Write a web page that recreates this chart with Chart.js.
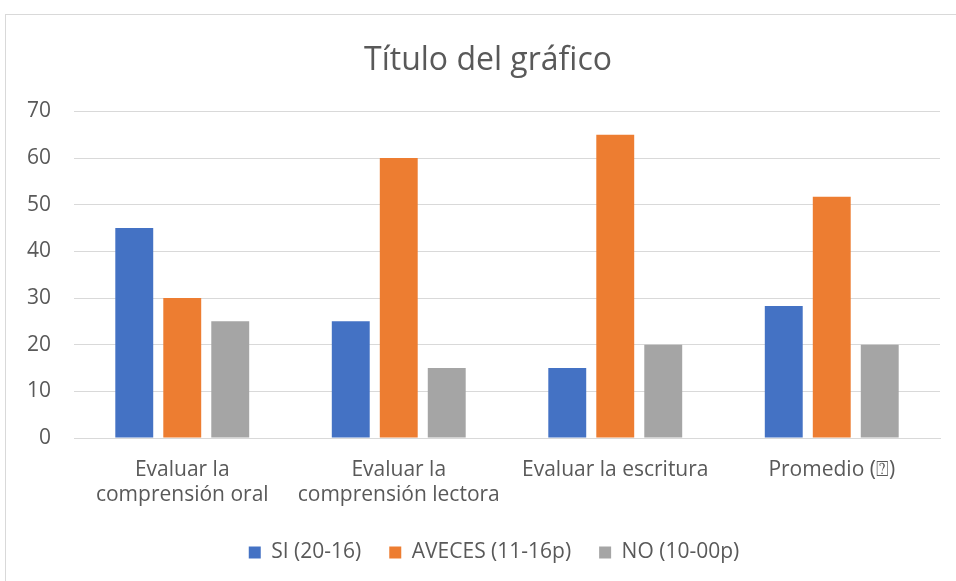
<!DOCTYPE html>
<html>
<head>
<meta charset="utf-8">
<script src="https://cdn.jsdelivr.net/npm/chart.js@4"></script>
<style>
    html, body { margin: 0; padding: 0; background: #fff; overflow: hidden; }
    #wrap { position: relative; width: 956px; height: 581px; }
    #frame { position: absolute; left: 5px; top: 14px; width: 970px; height: 600px; border: 1px solid #d9d9d9; }
    canvas { position: absolute; left: 0; top: 0; }
</style>
</head>
<body>
<div id="wrap">
    <div id="frame"></div>
    <canvas id="chart" width="956" height="581"></canvas>
</div>
<script>
// --- Data ---
const categories = [
    ["Evaluar la", "comprensión oral"],
    ["Evaluar la", "comprensión lectora"],
    "Evaluar la escritura",
    "Promedio (\u2370)"
];
const siValues     = [45, 25, 15, 28.3];
const avecesValues = [30, 60, 65, 51.7];
const noValues     = [25, 15, 20, 20];
const yTicks       = [0, 10, 20, 30, 40, 50, 60, 70];

const textColor = "#595959";
const fontName  = "'Open Sans', 'Noto Sans', sans-serif";

// Title and legend sit a bit right of the canvas centre in the original
const nudgeBoxes = {
    id: "nudgeBoxes",
    afterLayout(chart) {
        if (chart.legend)     { chart.legend.left += 14;     chart.legend.right += 14; }
        if (chart.titleBlock) { chart.titleBlock.left += 8;  chart.titleBlock.right += 8; }
    }
};

const ctx = document.getElementById("chart").getContext("2d");

new Chart(ctx, {
    type: "bar",
    data: {
        labels: categories,
        datasets: [
            { label: "SI (20-16)",        data: siValues,     backgroundColor: "#4472C4" },
            { label: "AVECES (11-16p)",   data: avecesValues, backgroundColor: "#ED7D31" },
            { label: "NO (10-00p)",       data: noValues,     backgroundColor: "#A5A5A5" }
        ]
    },
    plugins: [nudgeBoxes],
    options: {
        responsive: false,
        animation: false,
        layout: { padding: { left: 20, right: 16, top: 42, bottom: 8 } },
        datasets: { bar: { categoryPercentage: 0.665, barPercentage: 0.79 } },
        plugins: {
            title: {
                display: true,
                text: "Título del gráfico",
                color: textColor,
                font: { family: fontName, size: 32, weight: "normal" },
                padding: { top: 0, bottom: 31 }
            },
            legend: {
                position: "bottom",
                labels: {
                    color: textColor,
                    font: { family: fontName, size: 21 },
                    boxWidth: 12,
                    boxHeight: 12,
                    padding: 28
                }
            },
            tooltip: { enabled: false }
        },
        scales: {
            x: {
                grid: { display: false },
                border: { color: "#d9d9d9", width: 1 },
                ticks: {
                    color: textColor,
                    font: { family: fontName, size: 21 },
                    padding: 11,
                    maxRotation: 0
                },
                afterFit: scale => { scale.height = 76; }
            },
            y: {
                min: 0,
                max: 70,
                afterBuildTicks: scale => { scale.ticks = yTicks.map(v => ({ value: v })); },
                grid: { color: "#d9d9d9", drawTicks: false },
                border: { display: false },
                ticks: {
                    color: textColor,
                    font: { family: fontName, size: 21 },
                    padding: 23
                },
                afterFit: scale => { scale.width = 54; }
            }
        }
    }
});
</script>
</body>
</html>
